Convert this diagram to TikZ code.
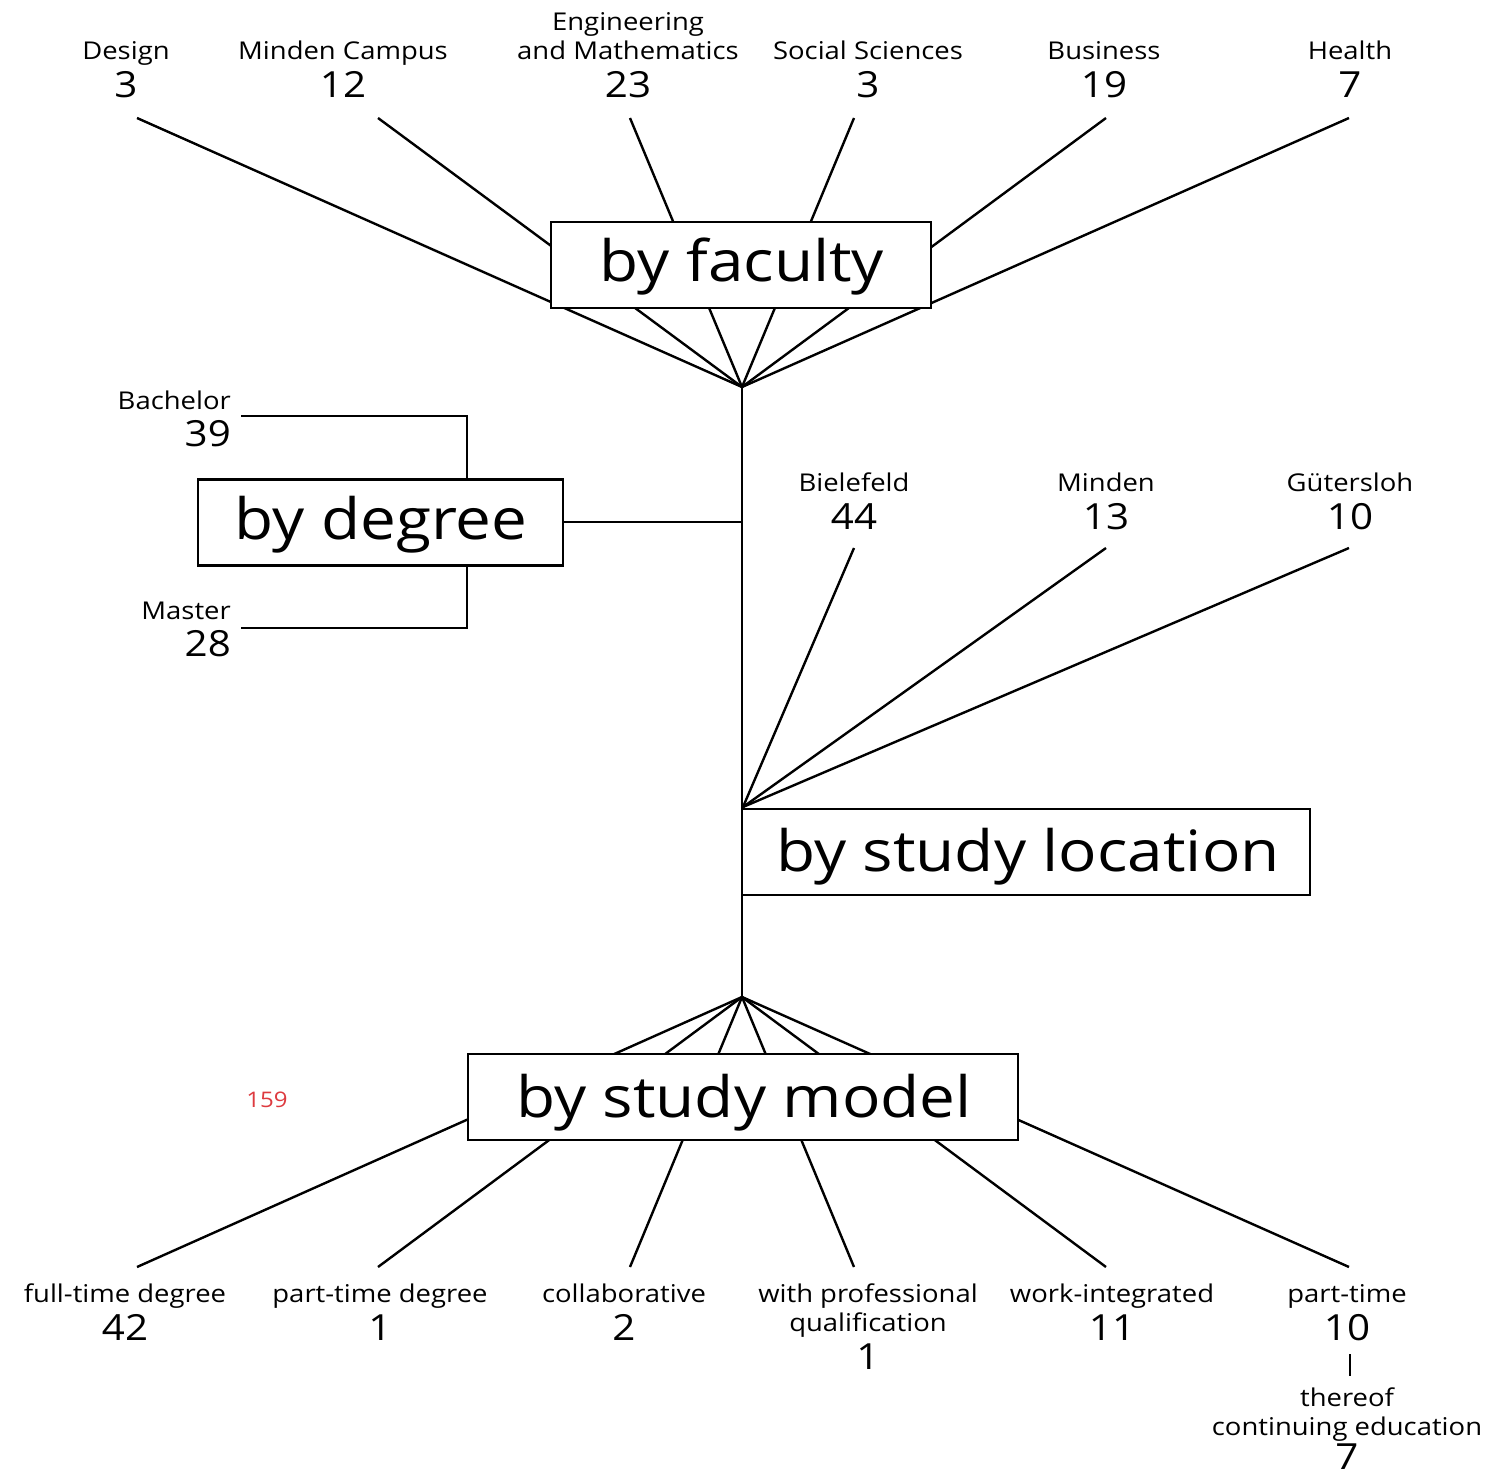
\documentclass[tikz,border=0pt]{standalone}
\usepackage{fontspec}
\setmainfont[FakeStretch=1.12]{Open Sans}
\pgfdeclarelayer{background}
\pgfsetlayers{background,main}
\newcommand\lblfont{\fontsize{24.5}{29}\selectfont}
\newcommand\numfont{\fontsize{36}{40}\selectfont}
\newcommand\boxfont{\fontsize{57}{64}\selectfont}
\definecolor{totalred}{HTML}{DD3A3F}
\begin{document}
\begin{tikzpicture}[x=1pt,y=-1pt,
  wire/.style={line width=2.4pt,black},
  catbox/.style={draw,line width=2.4pt,fill=white,inner sep=0pt,minimum height=86pt},
  boxtext/.style={font=\boxfont,anchor=base,inner sep=0pt},
  lbl/.style={font=\lblfont,anchor=base,inner sep=0pt},
  num/.style={font=\numfont,anchor=base,inner sep=0pt}]
\useasboundingbox (0,0) rectangle (1497,1471);

% hubs where the fans meet the spine
\coordinate (hubF) at (742,387);
\coordinate (hubD) at (742,522);
\coordinate (hubL) at (743,807);
\coordinate (hubM) at (742,997);

% category boxes
\node[catbox,minimum width=380pt] (faculty) at (741,265) {};
\node[boxtext] (facultyT) at (742,282) {by faculty};
\node[catbox,minimum width=365pt] (degree) at (380.5,522.5) {};
\node[boxtext] (degreeT) at (381,539) {by degree};
\node[catbox,minimum width=568pt] (location) at (1026,852) {};
\node[boxtext] (locationT) at (1028,871) {by study location};
\node[catbox,minimum width=550pt] (model) at (743,1097) {};
\node[boxtext] (modelT) at (744,1117) {by study model};

% faculties
\node[lbl] (fDn) at (126,60) {Design};
\node[num] (fDv) at (126,98) {3};
\node[lbl] (fMn) at (343,60) {Minden Campus};
\node[num] (fMv) at (343,98) {12};
\node[lbl] (fEn0) at (628,31) {Engineering};
\node[lbl] (fEn) at (628,60) {and Mathematics};
\node[num] (fEv) at (628,98) {23};
\node[lbl] (fSn) at (868,60) {Social Sciences};
\node[num] (fSv) at (868,98) {3};
\node[lbl] (fBn) at (1104,60) {Business};
\node[num] (fBv) at (1104,98) {19};
\node[lbl] (fHn) at (1350,60) {Health};
\node[num] (fHv) at (1350,98) {7};
\coordinate (fD) at (137,118);
\coordinate (fM) at (378,118);
\coordinate (fE) at (630,118);
\coordinate (fS) at (854,118);
\coordinate (fB) at (1106,118);
\coordinate (fH) at (1349,118);

% degrees
\node[lbl,anchor=base east] (dBn) at (231,409) {Bachelor};
\node[num,anchor=base east] (dBv) at (231,446) {39};
\node[lbl,anchor=base east] (dMn) at (231,619) {Master};
\node[num,anchor=base east] (dMv) at (231,656) {28};
\coordinate (dB) at (241,416);
\coordinate (dM) at (241,628);

% study locations
\node[lbl] (lBn) at (854,491) {Bielefeld};
\node[num] (lBv) at (854,529) {44};
\node[lbl] (lMn) at (1106,491) {Minden};
\node[num] (lMv) at (1106,529) {13};
\node[lbl] (lGn) at (1350,491) {Gütersloh};
\node[num] (lGv) at (1350,529) {10};
\coordinate (lB) at (854,548);
\coordinate (lM) at (1106,548);
\coordinate (lG) at (1349,548);

% study models
\node[lbl] (mFn) at (125,1302) {full-time degree};
\node[num] (mFv) at (125,1340) {42};
\node[lbl] (mPn) at (380,1302) {part-time degree};
\node[num] (mPv) at (380,1340) {1};
\node[lbl] (mCn) at (624,1302) {collaborative};
\node[num] (mCv) at (624,1340) {2};
\node[lbl] (mQn0) at (868,1302) {with professional};
\node[lbl] (mQn) at (868,1331) {qualification};
\node[num] (mQv) at (868,1369) {1};
\node[lbl] (mWn) at (1112,1302) {work-integrated};
\node[num] (mWv) at (1112,1340) {11};
\node[lbl] (mTn) at (1347,1302) {part-time};
\node[num] (mTv) at (1347,1340) {10};
\node[lbl] (mEn0) at (1347,1406) {thereof};
\node[lbl] (mEn) at (1347,1435) {continuing education};
\node[num] (mEv) at (1347,1469) {7};
\coordinate (mF) at (137,1267);
\coordinate (mP) at (378,1267);
\coordinate (mC) at (630,1267);
\coordinate (mQ) at (854,1267);
\coordinate (mW) at (1106,1267);
\coordinate (mT) at (1349,1267);
\coordinate (mTa) at (1350,1354);
\coordinate (mTb) at (1350,1376);

% total
\node[font=\fontsize{21.5}{24}\selectfont,text=totalred,anchor=base,inner sep=0pt] (total) at (267,1107) {159};

\begin{pgfonlayer}{background}
  \foreach \e in {fD,fM,fE,fS,fB,fH} \draw[wire] (\e) -- (hubF);
  \draw[wire] (hubF) -- (hubM);
  \draw[wire] (degree.east |- hubD) -- (hubD);
  \draw[wire] (dB) -| (degree.north -| 467,0);
  \draw[wire] (dM) -| (degree.south -| 467,0);
  \foreach \e in {lB,lM,lG} \draw[wire] (\e) -- (hubL);
  \foreach \e in {mF,mP,mC,mQ,mW,mT} \draw[wire] (hubM) -- (\e);
  \draw[wire] (mTa) -- (mTb);
\end{pgfonlayer}
\end{tikzpicture}
\end{document}
